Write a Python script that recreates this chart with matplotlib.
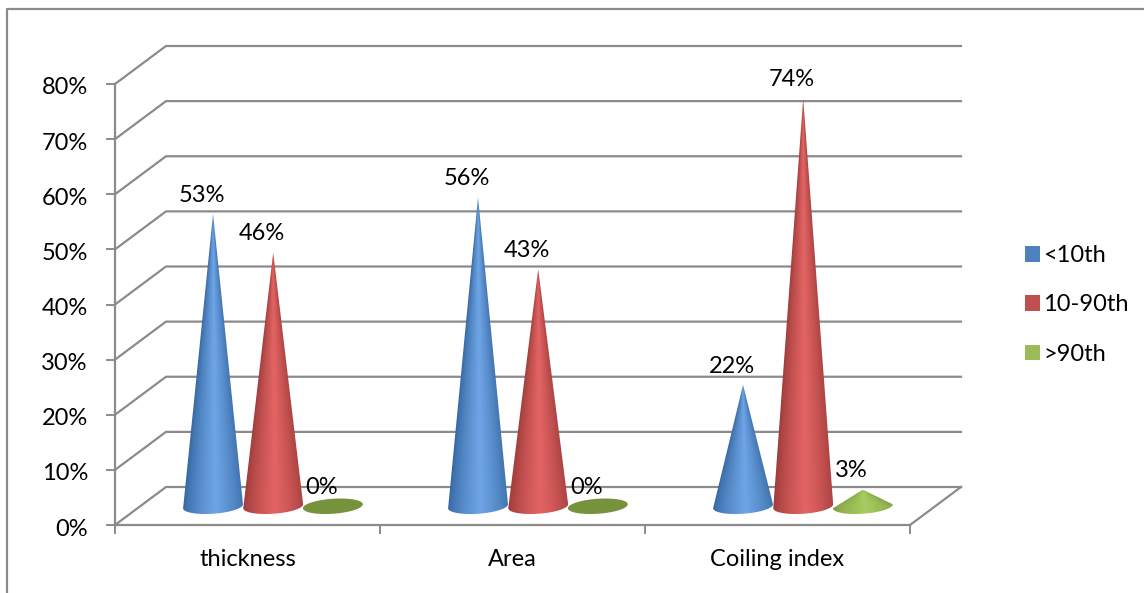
import numpy as np
import matplotlib
matplotlib.use("Agg")
import matplotlib.pyplot as plt
from matplotlib.lines import Line2D
from matplotlib.patches import Patch, Polygon
from matplotlib.transforms import ScaledTranslation

categories = ["thickness", "Area", "Coiling index"]
series_names = ["<10th", "10-90th", ">90th"]
below_10th = [53, 56, 22]
between_10_90th = [46, 43, 74]
above_90th = [0, 0, 3]
y_ticks = [0, 10, 20, 30, 40, 50, 60, 70, 80]

GRID = "#8b8b8b"
DARK = ["#33659f", "#9a3a38", "#7d9c3f"]
LIGHT = ["#6ea5e6", "#e46464", "#a9cc62"]
SWATCH = ["#4f81bd", "#c0504d", "#9bbb59"]
FLAT_GREEN = "#76923c"

W, H = 1144, 593
plt.rcParams["font.family"] = ["Lato", "DejaVu Sans"]
FS = 17

fig = plt.figure(figsize=(W / 100, H / 100), dpi=100)
ax = fig.add_axes([115 / W, (H - 525) / H, 795 / W, 441 / H])
ax.set_xlim(0, 3)
ax.set_ylim(0, 80)

# floor/wall depth of the fake 3d box, in data units
dx = 51 / 795 * 3
dy = 38 / 441 * 80

for v in y_ticks:
    ax.plot([0, dx, 3 + dx], [v, v + dy, v + dy], color=GRID, lw=1.6, clip_on=False, zorder=1)
ax.plot([3, 3 + dx], [0, dy], color=GRID, lw=1.6, clip_on=False, zorder=1)

# cone geometry
offsets = [0.37, 0.597, 0.822]
base_y = 3.4
half_w = 0.113
half_h = 1.36
tilt = 0.36


def draw_cone(cx, value, s):
    base = base_y
    t = np.linspace(0, np.pi, 60)
    ex = half_w * np.cos(t)
    ey = tilt * np.cos(t) - half_h * np.sin(t)
    if value == 0:
        t2 = np.linspace(0, 2 * np.pi, 90)
        pts = np.column_stack([cx + half_w * np.cos(t2),
                               base + tilt * np.cos(t2) - half_h * np.sin(t2)])
        ax.add_patch(Polygon(pts, closed=True, color=FLAT_GREEN, lw=0, clip_on=False, zorder=3))
        return
    tip = base + value
    pts = np.vstack([[cx, tip], np.column_stack([cx + ex, base + ey])])
    ys = np.linspace(0, 1, 300)
    us = np.linspace(-1, 1, 120)
    grid_u, grid_y = np.meshgrid(us, ys)
    # y runs base->tip, shade follows the local cone width
    frac = np.clip(1 - grid_y, 0.02, 1)
    u = np.clip(grid_u / frac, -1, 1)
    shade = (1 - np.abs(u - 0.08) / 1.08) ** 0.7
    dark = np.array(matplotlib.colors.to_rgb(DARK[s]))
    light = np.array(matplotlib.colors.to_rgb(LIGHT[s]))
    img = dark + (light - dark) * shade[..., None]
    bottom = base - half_h - 0.4
    im = ax.imshow(img, origin="lower", aspect="auto", interpolation="bilinear",
                   extent=[cx - half_w, cx + half_w, base, tip], zorder=3 + s * 0.1)
    # extend the colours below the base line for the elliptical bottom
    im2 = ax.imshow(img[:1], origin="lower", aspect="auto", interpolation="bilinear",
                    extent=[cx - half_w, cx + half_w, bottom, base], zorder=3 + s * 0.1)
    clip = Polygon(pts, closed=True, transform=ax.transData)
    im.set_clip_path(clip)
    im2.set_clip_path(clip)


all_series = [below_10th, between_10_90th, above_90th]
for s, vals in enumerate(all_series):
    for i, v in enumerate(vals):
        cx = i + offsets[s]
        draw_cone(cx, v, s)
        ax.annotate(f"{v}%", (cx, base_y + v), xytext=(-8, 13.5), textcoords="offset points",
                    ha="center", va="center", fontsize=FS, color="black",
                    annotation_clip=False, zorder=6)

ax.set_xlim(0, 3)
ax.set_ylim(0, 80)

for side in ["top", "right"]:
    ax.spines[side].set_visible(False)
for side in ["left", "bottom"]:
    ax.spines[side].set_color(GRID)
    ax.spines[side].set_linewidth(1.6)

ax.set_xticks([0, 1, 2, 3])
ax.set_xticklabels([])
ax.set_xticks([0.5, 1.5, 2.5], minor=True)
ax.set_xticklabels(categories, minor=True, fontsize=FS)
ax.tick_params(axis="x", which="major", length=6.5, width=1.4, color=GRID)
ax.tick_params(axis="x", which="minor", length=0, pad=17)
ax.set_yticks(y_ticks)
ax.set_yticklabels([f"{v}%" for v in y_ticks], fontsize=FS, va="center_baseline")
ax.tick_params(axis="y", length=6.5, width=1.4, color=GRID, pad=13)
# labels sit a touch under their tick in the original
nudge = ScaledTranslation(0, -2 / 100, fig.dpi_scale_trans)
for lab in ax.get_yticklabels():
    lab.set_transform(lab.get_transform() + nudge)
ax.patch.set_alpha(0)

handles = [Patch(facecolor=c, edgecolor="none", label=n) for c, n in zip(SWATCH, series_names)]
fig.legend(handles=handles, loc="upper left", bbox_to_anchor=(1025 / W, 1 - 245 / H),
           frameon=False, fontsize=FS, handlelength=0.64, handleheight=0.64,
           handletextpad=0.12, labelspacing=1.2, borderpad=0, borderaxespad=0)

# outer chart frame, runs off the right and bottom of the crop
fig.add_artist(Line2D([7 / W, 7 / W, 1], [0, 1 - 9 / H, 1 - 9 / H], color=GRID, lw=1.6))

fig.savefig("out.png", dpi=100)
